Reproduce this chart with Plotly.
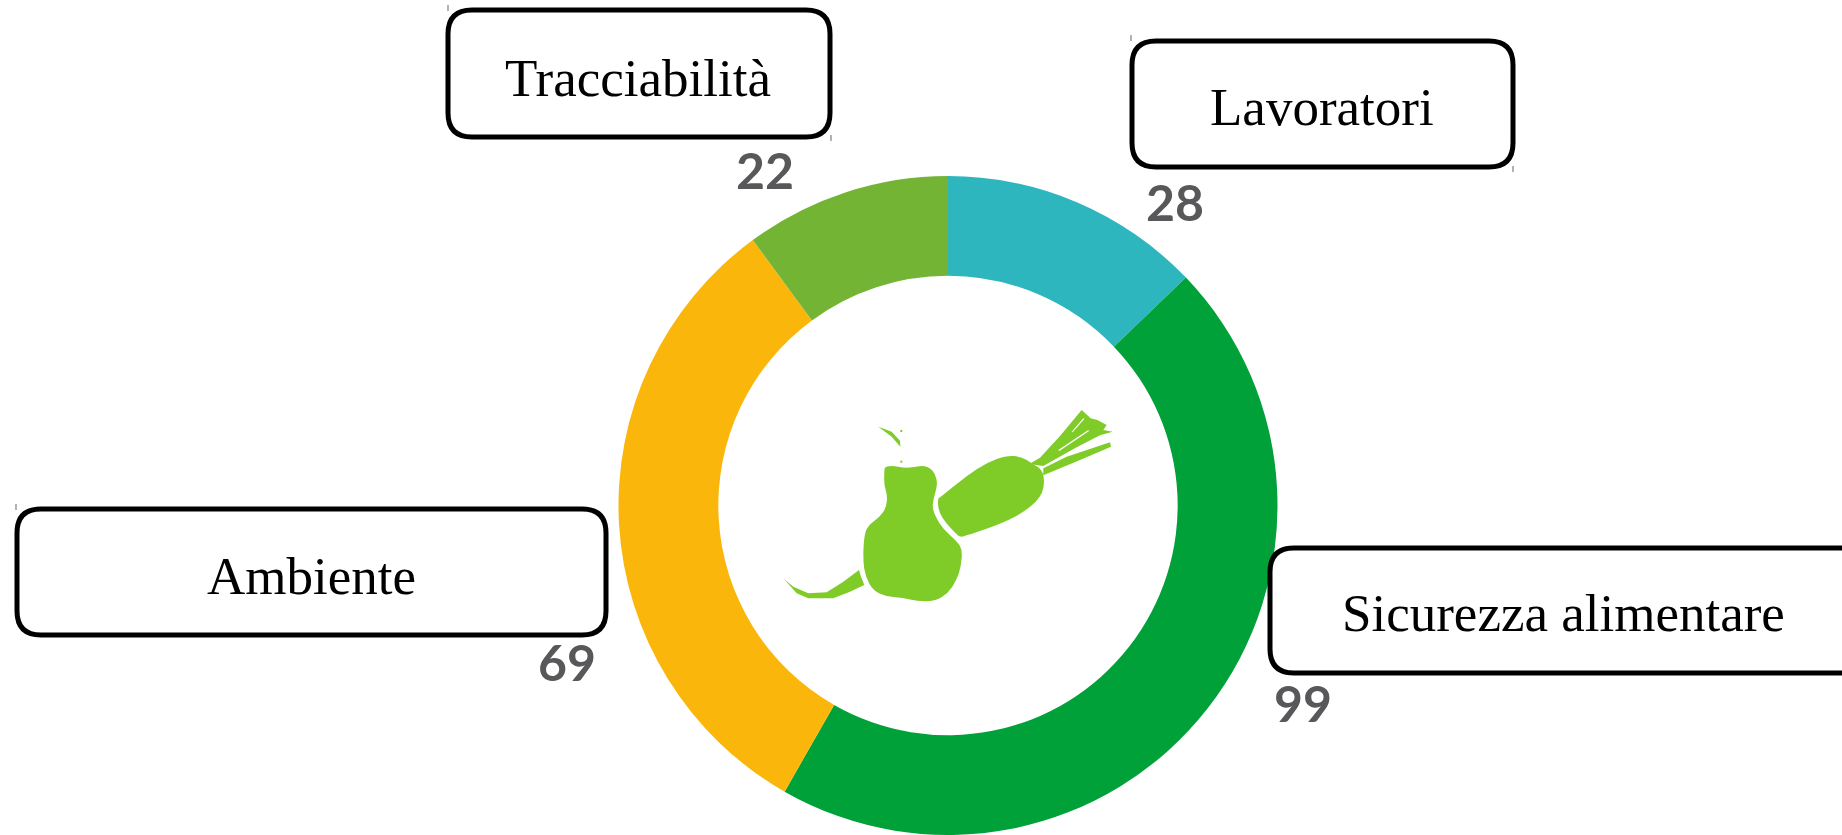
import plotly.graph_objects as go

W, H = 1842, 835

categories = ["Lavoratori", "Sicurezza alimentare", "Ambiente", "Tracciabilità"]
values = [28, 99, 69, 22]
colors = ["#2EB6BE", "#00A139", "#FBB60B", "#74B434"]

ICON_GREEN = "#7FCC28"
TEXT_GREY = "#58585A"


def px(x):
    return x / W


def py(y):
    return 1 - y / H


def rounded_box(x0, y0, x1, y1, r=24):
    return (
        f"M{px(x0 + r)},{py(y0)} L{px(x1 - r)},{py(y0)} "
        f"Q{px(x1)},{py(y0)} {px(x1)},{py(y0 + r)} L{px(x1)},{py(y1 - r)} "
        f"Q{px(x1)},{py(y1)} {px(x1 - r)},{py(y1)} L{px(x0 + r)},{py(y1)} "
        f"Q{px(x0)},{py(y1)} {px(x0)},{py(y1 - r)} L{px(x0)},{py(y0 + r)} "
        f"Q{px(x0)},{py(y0)} {px(x0 + r)},{py(y0)} Z"
    )


def to_page(points):
    # Outline points are measured in a 3x crop whose origin is (760, 400).
    return [(px(760 + a / 3), py(400 + b / 3)) for a, b in points]


def icon_path(points):
    return "M" + " L".join(f"{a},{b}" for a, b in to_page(points)) + " Z"


def smooth_path(points):
    # Closed outline: each measured point is a control point between midpoints.
    c = to_page(points)
    n = len(c)
    mid = [((c[i][0] + c[(i + 1) % n][0]) / 2, (c[i][1] + c[(i + 1) % n][1]) / 2) for i in range(n)]
    d = f"M{mid[-1][0]},{mid[-1][1]}"
    for i in range(n):
        d += f" Q{c[i][0]},{c[i][1]} {mid[i][0]},{mid[i][1]}"
    return d + " Z"


pear = [(373, 207), (376, 200), (400, 197), (428, 203), (455, 203), (490, 196), (517, 207), (532, 240),
        (529, 268), (521, 295), (517, 320), (525, 348), (550, 388), (592, 425), (607, 450),
        (603, 500), (590, 540), (564, 580), (525, 604), (470, 604), (430, 593), (380, 590),
        (340, 572), (316, 530), (309, 480), (312, 410), (323, 378), (360, 350), (379, 322),
        (382, 285), (372, 255)]
carrot_body = [(533, 296), (540, 292), (560, 276), (620, 228), (680, 188), (740, 166), (785, 170),
               (815, 190), (852, 212), (852, 280), (802, 330), (730, 369), (612, 410), (598, 410),
               (590, 403), (558, 370), (536, 335)]
leaves_upper = [(808, 192), (840, 173), (900, 108), (965, 30), (992, 55), (1012, 60), (1040, 75),
                (1030, 90), (1058, 95), (1020, 106), (950, 142), (850, 198)]
leaf_lower = [(850, 205), (920, 170), (1050, 127), (1053, 140), (960, 180), (850, 226)]
tail = [(72, 537), (100, 560), (145, 580), (200, 577), (250, 545), (297, 510), (303, 530),
        (313, 555), (270, 575), (220, 595), (145, 595), (110, 580)]
stem = [(355, 80), (395, 95), (420, 122), (421, 140), (395, 110), (375, 95)]
dot_a = [(421, 90), (427, 90), (427, 96), (421, 96)]
dot_b = [(421, 182), (427, 182), (427, 188), (421, 188)]
slit_a = [(935, 95), (970, 55), (973, 57), (938, 97)]
slit_b = [(895, 150), (985, 90), (987, 93), (898, 153)]

fig = go.Figure(
    go.Pie(
        labels=categories,
        values=values,
        marker=dict(colors=colors, line=dict(width=0)),
        hole=0.697,
        sort=False,
        direction="clockwise",
        rotation=0,
        textinfo="none",
        hoverinfo="label+value",
        showlegend=False,
        domain=dict(x=[px(618), px(1278)], y=[0, py(176)]),
    )
)

shapes = []
for pts in (pear, carrot_body):
    shapes.append(dict(type="path", xref="paper", yref="paper", path=smooth_path(pts),
                       fillcolor=ICON_GREEN, line=dict(width=0)))
for pts in (tail, leaves_upper, leaf_lower, stem, dot_a, dot_b):
    shapes.append(dict(type="path", xref="paper", yref="paper", path=icon_path(pts),
                       fillcolor=ICON_GREEN, line=dict(width=0)))
for pts in (slit_a, slit_b):
    shapes.append(dict(type="path", xref="paper", yref="paper", path=icon_path(pts),
                       fillcolor="white", line=dict(width=0)))

boxes = [
    ("Tracciabilità", 448, 10, 830, 137, 638, 78),
    ("Lavoratori", 1132, 41, 1513, 167, 1322, 107),
    ("Ambiente", 17, 509, 606, 635, 311, 576),
    ("Sicurezza alimentare", 1270, 548, 1870, 673, 1563, 613),
]
value_labels = [
    (values[3], 765, 170),
    (values[0], 1175, 202),
    (values[2], 567, 662),
    (values[1], 1303, 703),
]
# Tiny selection-handle marks left at box corners in the reference.
corner_marks = [(448, 8), (831, 138), (1131, 38), (1513, 169), (16, 507), (1270, 546)]

annotations = []
for name, x0, y0, x1, y1, tx, ty in boxes:
    shapes.append(dict(type="path", xref="paper", yref="paper", path=rounded_box(x0, y0, x1, y1),
                       fillcolor="white", line=dict(color="black", width=5)))
    annotations.append(dict(text=name, x=px(tx), y=py(ty), xref="paper", yref="paper",
                            showarrow=False, xanchor="center", yanchor="middle",
                            font=dict(family="Liberation Serif", size=53, color="black")))
for cx, cy in corner_marks:
    shapes.append(dict(type="line", xref="paper", yref="paper", x0=px(cx), x1=px(cx),
                       y0=py(cy - 3), y1=py(cy + 3), line=dict(color="#666666", width=1)))
for value, tx, ty in value_labels:
    annotations.append(dict(text=f"<b>{value}</b>", x=px(tx), y=py(ty), xref="paper", yref="paper",
                            showarrow=False, xanchor="center", yanchor="middle",
                            font=dict(family="Lato", size=50, color=TEXT_GREY)))

fig.update_layout(
    width=W, height=H, autosize=False,
    margin=dict(l=0, r=0, t=0, b=0, pad=0),
    paper_bgcolor="white", plot_bgcolor="white",
    shapes=shapes, annotations=annotations,
)

fig.write_html("out.html", post_script="document.body.style.margin='0';",
               config=dict(displayModeBar=False))
